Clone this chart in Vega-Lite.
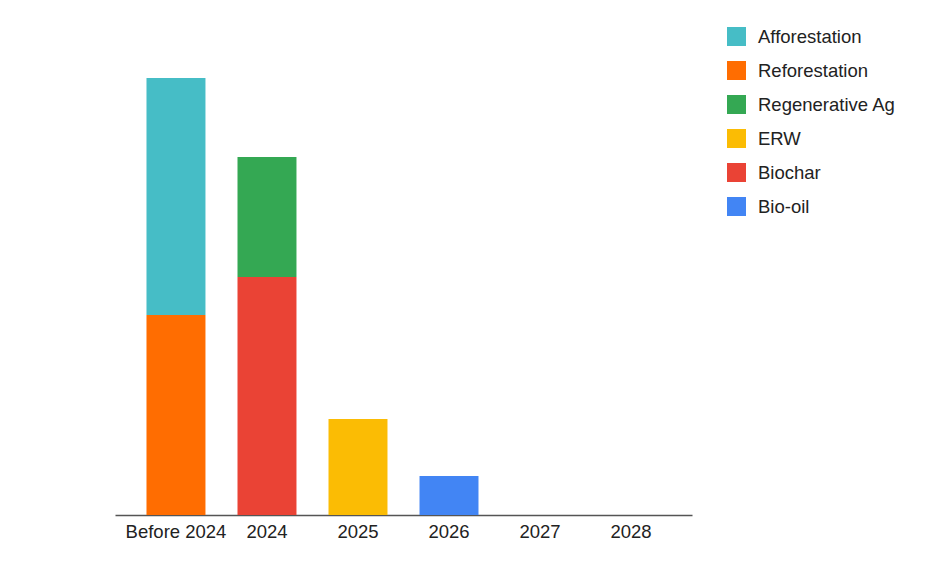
{
  "$schema": "https://vega.github.io/schema/vega-lite/v6.json",
  "autosize": "none",
  "width": 577,
  "height": 495,
  "padding": {"left": 115, "top": 20, "right": 233, "bottom": 56},
  "background": "white",
  "config": {"view": {"stroke": null}, "font": "Liberation Sans"},
  "data": {
    "values": [
      {"period": "Before 2024", "type": "Reforestation", "value": 200, "ord": 1},
      {"period": "Before 2024", "type": "Afforestation", "value": 237, "ord": 2},
      {"period": "2024", "type": "Biochar", "value": 238, "ord": 1},
      {"period": "2024", "type": "Regenerative Ag", "value": 120, "ord": 2},
      {"period": "2025", "type": "ERW", "value": 96, "ord": 1},
      {"period": "2026", "type": "Bio-oil", "value": 39, "ord": 1},
      {"period": "2027", "type": "Bio-oil", "value": 0, "ord": 1},
      {"period": "2028", "type": "Bio-oil", "value": 0, "ord": 1}
    ]
  },
  "mark": {"type": "bar", "cornerRadius": 0},
  "encoding": {
    "x": {
      "field": "period",
      "type": "nominal",
      "sort": ["Before 2024", "2024", "2025", "2026", "2027", "2028"],
      "scale": {"paddingInner": 0.352, "paddingOuter": 0.346},
      "axis": {
        "title": null,
        "labelAngle": 0,
        "labelFontSize": 18.5,
        "labelColor": "#222222",
        "labelPadding": 7,
        "ticks": false,
        "domainColor": "#555555",
        "domainWidth": 1.5,
        "grid": false
      }
    },
    "y": {
      "field": "value",
      "type": "quantitative",
      "stack": "zero",
      "scale": {"domain": [0, 495], "nice": false},
      "axis": null
    },
    "color": {
      "field": "type",
      "type": "nominal",
      "scale": {
        "domain": ["Afforestation", "Reforestation", "Regenerative Ag", "ERW", "Biochar", "Bio-oil"],
        "range": ["#46BDC6", "#FF6D01", "#34A853", "#FBBC04", "#EA4335", "#4285F4"]
      },
      "legend": {
        "title": null,
        "orient": "none",
        "legendX": 612,
        "legendY": 7,
        "symbolType": "square",
        "symbolSize": 361,
        "symbolStrokeWidth": 0,
        "labelFontSize": 18.5,
        "labelColor": "#222222",
        "labelOffset": 12,
        "rowPadding": 15,
        "labelLimit": 300
      }
    },
    "order": {"field": "ord", "type": "quantitative"}
  }
}
